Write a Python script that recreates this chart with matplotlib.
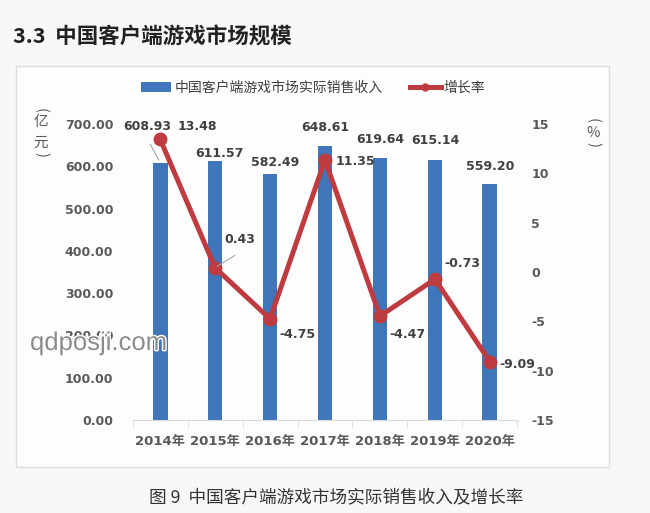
import numpy as np
import matplotlib
matplotlib.use("Agg")
import matplotlib.pyplot as plt
from matplotlib.patches import Rectangle
from matplotlib.lines import Line2D
from matplotlib.patches import Patch
import matplotlib.patheffects as pe

# ── Data ─────────────────────────────────────────────────────────────────────
years   = ["2014年", "2015年", "2016年", "2017年", "2018年", "2019年", "2020年"]
revenue = [608.93, 611.57, 582.49, 648.61, 619.64, 615.14, 559.20]
growth  = [13.48, 0.43, -4.75, 11.35, -4.47, -0.73, -9.09]
rev_ticks = [0, 100, 200, 300, 400, 500, 600, 700]
gr_ticks  = [-15, -10, -5, 0, 5, 10, 15]

BLUE = "#3F76BA"
RED = "#BE3B40"
TXT = "#404040"
FONT = ["DejaVu Sans", "Noto Sans CJK SC"]
CJK = ["Noto Sans CJK SC", "DejaVu Sans"]

fig = plt.figure(figsize=(6.5, 5.13), dpi=100)
fig.patch.set_facecolor("#F8F8F8")

# chart frame
fig.patches.append(Rectangle((16 / 650, 1 - 467 / 513), 593 / 650, 401 / 513,
                             transform=fig.transFigure, facecolor="#FDFDFD",
                             edgecolor="#DDDDDD", linewidth=1.0, zorder=-10))

ax = fig.add_axes([0.204, 0.1813, 0.592, 0.577])
ax.patch.set_alpha(0)
x = np.arange(len(years))

bars = ax.bar(x, revenue, width=0.27, color=BLUE, zorder=2)
ax.set_xlim(-0.5, 6.5)
ax.set_ylim(0, 700)
ax.set_yticks(rev_ticks)
ax.set_yticklabels([f"{v:.2f}" for v in rev_ticks])
ax.set_xticks(x)
ax.set_xticklabels(years)
ax.set_xticks(np.arange(-0.5, 7, 1), minor=True)
for s in ["top", "right", "left"]:
    ax.spines[s].set_visible(False)
ax.spines["bottom"].set_color("#D9D9D9")
ax.tick_params(axis="x", which="major", length=0, pad=11, labelsize=9.5, labelcolor="#595959")
ax.tick_params(axis="x", which="minor", length=5, color="#D9D9D9")
ax.tick_params(axis="y", length=0, pad=14, labelsize=9, labelcolor="#595959")
for lab in ax.get_xticklabels() + ax.get_yticklabels():
    lab.set_family(FONT)
    lab.set_fontweight("bold")

ax2 = ax.twinx()
ax2.set_ylim(-15, 15)
ax2.set_yticks(gr_ticks)
ax2.set_yticklabels([str(v) for v in gr_ticks])
for s in ax2.spines.values():
    s.set_visible(False)
ax2.tick_params(axis="y", length=0, pad=10, labelsize=9, labelcolor="#595959")
for lab in ax2.get_yticklabels():
    lab.set_fontweight("bold")
ax2.plot(x, growth, color=RED, linewidth=3.6, marker="o", markersize=9, zorder=3)

# revenue labels (offsets in points)
rev_off = [(-9, 26), (3, 6), (4, 8), (0, 13), (0, 13), (0, 14), (0, 12)]
for i, (v, off) in enumerate(zip(revenue, rev_off)):
    ax.annotate(f"{v:.2f}", (x[i], v), xytext=off, textcoords="offset points",
                ha="center", va="center", fontsize=9, fontweight="bold", color=TXT)
# leader line for 2014 revenue
ax.annotate("", (x[0], revenue[0]), xytext=(-8, 15), textcoords="offset points",
            arrowprops=dict(arrowstyle="-", color="#A6A6A6", lw=0.8))

# growth labels
gr_off = [(27, 9), (18, 20), (20, -11), (22, -1), (20, -13), (20, 11), (20, -2)]
for i, (v, off) in enumerate(zip(growth, gr_off)):
    ax2.annotate(f"{v:.2f}", (x[i], v), xytext=off, textcoords="offset points",
                 ha="center", va="center", fontsize=9, fontweight="bold", color=TXT)
ax2.annotate("", (x[1], growth[1]), xytext=(16, 10), textcoords="offset points",
             arrowprops=dict(arrowstyle="-", color="#A6A6A6", lw=0.8))

# axis unit labels (stacked, brackets turned)
def unit_label(xp, ys, chars):
    items = ["("] + list(chars) + [")"]
    for c, y in zip(items, ys):
        rot = -90 if c in "()" else 0
        fig.text(xp / 650, 1 - y / 513, c, rotation=rot, family=CJK, fontsize=10.5,
                 color="#595959", ha="center", va="center")

unit_label(41, [110, 122, 143, 155], "亿元")
unit_label(593, [121, 133, 145], "%")

# legend
handles = [Patch(facecolor=BLUE, edgecolor="none"),
           Line2D([0], [0], color=RED, linewidth=3.6, marker="o", markersize=5)]
leg = fig.legend(handles, ["中国客户端游戏市场实际销售收入", "增长率"], ncol=2,
                 loc="center", bbox_to_anchor=(313 / 650, 1 - 88 / 513),
                 frameon=False, prop={"family": CJK, "size": 10},
                 handlelength=2.2, handletextpad=0.2, columnspacing=2.0)
for t in leg.get_texts():
    t.set_color("#404040")

# title and caption
fig.text(13 / 650, 1 - 37 / 513, "3.3  中国客户端游戏市场规模", family=CJK,
         fontsize=15.5, fontweight="bold", color="#222222", va="center", ha="left")
fig.text(336 / 650, 1 - 497 / 513, "图 9  中国客户端游戏市场实际销售收入及增长率",
         family=CJK, fontsize=12.7, color="#333333", ha="center", va="center")

# watermark
fig.text(30 / 650, 1 - 343 / 513, "qdposji.com", fontsize=18.5, color="#8C8C8C",
         ha="left", va="center", family=["Liberation Sans", "DejaVu Sans"],
         path_effects=[pe.withStroke(linewidth=2, foreground="white")], zorder=10)

fig.savefig("out.png", dpi=100, facecolor=fig.get_facecolor())
